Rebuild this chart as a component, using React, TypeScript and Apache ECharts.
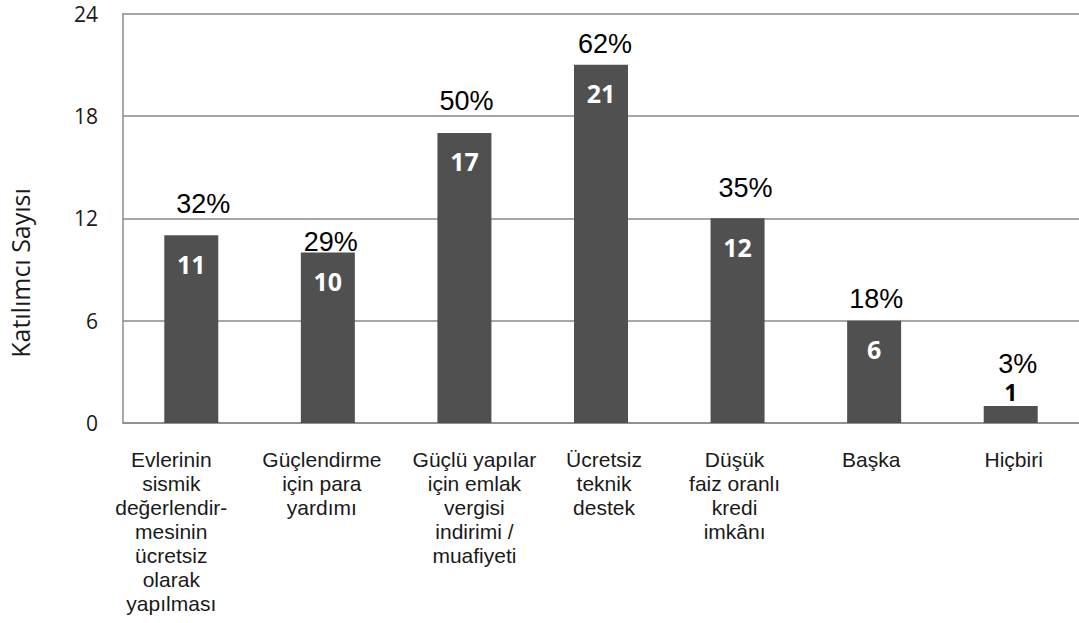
import React, { useEffect, useRef } from "react";
import * as echarts from "echarts";

const categories = [
  "Evlerinin\nsismik\ndeğerlendir-\nmesinin\nücretsiz\nolarak\nyapılması",
  "Güçlendirme\niçin para\nyardımı",
  "Güçlü yapılar\niçin emlak\nvergisi\nindirimi /\nmuafiyeti",
  "Ücretsiz\nteknik\ndestek",
  "Düşük\nfaiz oranlı\nkredi\nimkânı",
  "Başka",
  "Hiçbiri",
];
const counts = [11, 10, 17, 21, 12, 6, 1];
const percents = [32, 29, 50, 62, 35, 18, 3];
const yTicks = { min: 0, max: 24, interval: 6 };
const yAxisTitle = "Katılımcı Sayısı";

// label placement tweaks (style only)
const pctLift = [18, -3, 18, 7, 17, 8, 28];
const pctShiftX = [12, 3, 2, 4, 8, 2, 7];
const catShiftX = [-20, -6, 10, 3, -3, -3, 3];

export default function App() {
  const ref = useRef<HTMLDivElement>(null);
  useEffect(() => {
    if (!ref.current) return;
    const chart = echarts.init(ref.current, null, { renderer: "svg" });
    const gridColor = "#8a8a8a";
    chart.setOption({
      animation: false,
      backgroundColor: "#ffffff",
      grid: { left: 123, right: -5, top: 13.5, bottom: 200, containLabel: false },
      xAxis: {
        type: "category",
        data: categories.map((c, i) => ({
          value: c,
          textStyle: {
            padding: catShiftX[i] < 0 ? [0, -2 * catShiftX[i], 0, 0] : [0, 0, 0, 2 * catShiftX[i]],
          },
        })),
        axisLine: { show: true, lineStyle: { color: gridColor, width: 1.5 } },
        axisTick: { show: false },
        axisLabel: {
          interval: 0,
          margin: 24,
          fontFamily: "Liberation Sans, Arial, sans-serif",
          fontSize: 21,
          lineHeight: 24,
          color: "#1a1a1a",
          align: "center",
          verticalAlign: "top",
        },
      },
      yAxis: {
        type: "value",
        min: yTicks.min,
        max: yTicks.max,
        interval: yTicks.interval,
        axisLine: { show: true, lineStyle: { color: gridColor, width: 1.5 } },
        axisTick: { show: false },
        splitLine: { show: true, lineStyle: { color: gridColor, width: 1.5 } },
        axisLabel: {
          margin: 25,
          fontFamily: "Open Sans, sans-serif",
          fontSize: 21,
          lineHeight: 21,
          color: "#1a1a1a",
        },
      },
      graphic: [
        {
          type: "text",
          x: 20,
          y: 273,
          rotation: Math.PI / 2,
          style: {
            text: yAxisTitle,
            fontFamily: "Open Sans, sans-serif",
            fontSize: 25,
            fill: "#1a1a1a",
            align: "center",
            verticalAlign: "middle",
          },
        },
      ],
      series: [
        {
          type: "bar",
          barWidth: 54,
          silent: true,
          itemStyle: { color: "#505050" },
          label: {
            show: true,
            position: "insideTop",
            distance: 16,
            color: "#ffffff",
            fontFamily: "Open Sans, sans-serif",
            fontWeight: "bold",
            fontSize: 25,
            formatter: "{c}",
          },
          data: counts.map((v) =>
            v < 3
              ? {
                  value: v,
                  label: { position: "top", distance: 0, offset: [0, -2], color: "#000000", fontSize: 23 },
                }
              : v
          ),
        },
        {
          type: "bar",
          barWidth: 54,
          barGap: "-100%",
          silent: true,
          itemStyle: { color: "rgba(0,0,0,0)" },
          label: {
            show: true,
            position: "top",
            distance: 0,
            color: "#000000",
            fontFamily: "Liberation Sans, Arial, sans-serif",
            fontSize: 27,
          },
          data: counts.map((v, i) => ({
            value: v,
            label: {
              formatter: percents[i] + "%",
              offset: [pctShiftX[i], -pctLift[i]],
            },
          })),
        },
      ],
    });
    return () => chart.dispose();
  }, []);
  return (
    <div
      ref={ref}
      style={{ position: "fixed", left: 0, top: 0, width: 1079, height: 623, background: "#fff" }}
    />
  );
}
